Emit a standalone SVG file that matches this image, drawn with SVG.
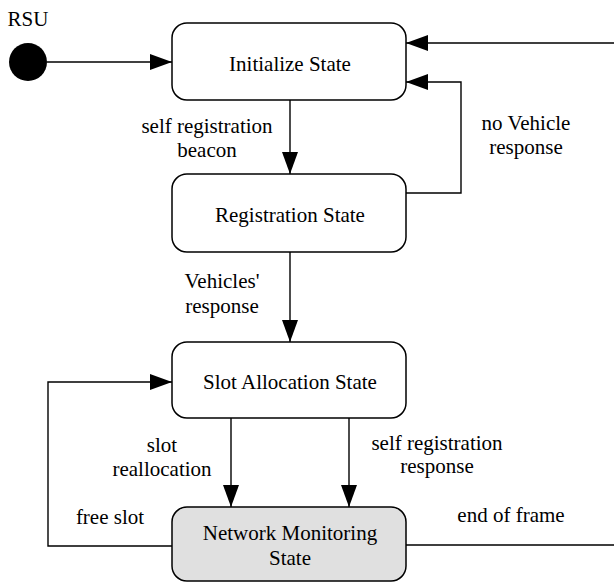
<svg xmlns="http://www.w3.org/2000/svg" width="614" height="582" viewBox="0 0 614 582">
<style>
.box{fill:#ffffff;stroke:#000;stroke-width:1.5}
.gray{fill:#e0e0e0}
.t{font-family:"Liberation Serif","Times New Roman",serif;font-size:21px;fill:#000;text-anchor:middle}
.c{fill:none;stroke:#000;stroke-width:1.4}
</style>
<defs>
<marker id="ah" markerUnits="userSpaceOnUse" markerWidth="23" markerHeight="18" refX="22" refY="8" orient="auto">
<path d="M0,0 L22,8 L0,16 Z" fill="#000"/>
</marker>
</defs>
<rect width="614" height="582" fill="#fff"/>
<g id="connectors">
<path class="c" d="M47,62 H172" marker-end="url(#ah)"/>
<path class="c" d="M290,100 V174" marker-end="url(#ah)"/>
<path class="c" d="M406,193 H461 V82 H406" marker-end="url(#ah)"/>
<path class="c" d="M290,252 V342" marker-end="url(#ah)"/>
<path class="c" d="M231,418 V507" marker-end="url(#ah)"/>
<path class="c" d="M349,418 V507" marker-end="url(#ah)"/>
<path class="c" d="M172,546 H48 V382 H172" marker-end="url(#ah)"/>
<path class="c" d="M406,545 H616 V43 H406" marker-end="url(#ah)"/>
<text class="t" x="207" y="133">self registration</text>
<text class="t" x="207" y="157">beacon</text>
<text class="t" x="526" y="130">no Vehicle</text>
<text class="t" x="526" y="154">response</text>
<text class="t" x="222" y="288">Vehicles'</text>
<text class="t" x="222" y="313">response</text>
<text class="t" x="162" y="452">slot</text>
<text class="t" x="162" y="476">reallocation</text>
<text class="t" x="437" y="450">self registration</text>
<text class="t" x="437" y="473">response</text>
<text class="t" x="110" y="524">free slot</text>
<text class="t" x="511" y="522">end of frame</text>
</g>
<g id="start">
<text class="t" x="28" y="26">RSU</text>
<circle cx="28" cy="62" r="19" fill="#000"/>
</g>
<g id="initialize">
<rect class="box" x="172" y="23" width="234" height="77" rx="15"/>
<text class="t" x="290" y="71">Initialize State</text>
</g>
<g id="registration">
<rect class="box" x="172" y="174" width="234" height="78" rx="15"/>
<text class="t" x="290" y="222">Registration State</text>
</g>
<g id="slot-allocation">
<rect class="box" x="172" y="342" width="234" height="76" rx="15"/>
<text class="t" x="290" y="389">Slot Allocation State</text>
</g>
<g id="network-monitoring">
<rect class="box gray" x="172" y="507" width="234" height="74" rx="15"/>
<text class="t" x="290" y="540">Network Monitoring</text>
<text class="t" x="290" y="565">State</text>
</g>
</svg>
